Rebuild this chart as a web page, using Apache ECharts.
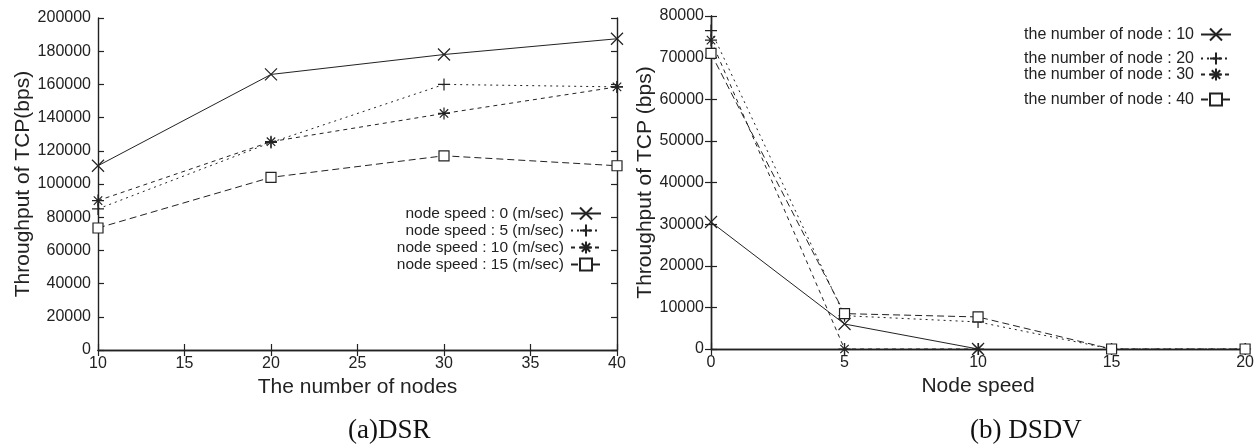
<!DOCTYPE html>
<html>
<head>
<meta charset="utf-8">
<script src="https://cdn.jsdelivr.net/npm/echarts@6/dist/echarts.min.js"></script>
<style>
html,body{margin:0;padding:0;background:#fff;}
#chart{width:1257px;height:444px;}
</style>
</head>
<body>
<div id="chart"></div>
<script>
// ---- Data: (a) DSR ----
const dsrNodes = [10, 20, 30, 40];
const dsrSpeed0 = [111000, 166000, 178000, 187500];
const dsrSpeed5 = [85000, 125000, 160000, 158500];
const dsrSpeed10 = [90000, 125500, 142500, 158500];
const dsrSpeed15 = [73500, 104000, 117000, 111000];
const dsrNames = ['node speed : 0 (m/sec)', 'node speed : 5 (m/sec)', 'node speed : 10 (m/sec)', 'node speed : 15 (m/sec)'];

// ---- Data: (b) DSDV ----
const dsdvSpeeds = [0, 5, 10, 15, 20];
const dsdvNode10 = [30500, 6000, 0];
const dsdvNode20 = [76500, 8000, 6500, 0, 0];
const dsdvNode30 = [74200, 0, 0];
const dsdvNode40 = [71000, 8500, 7700, 0, 0];
const dsdvNames = ['the number of node : 10', 'the number of node : 20', 'the number of node : 30', 'the number of node : 40'];

// ---- Labels ----
const captions = ['(a)DSR', '(b) DSDV'];
const xNames = ['The number of nodes', 'Node speed'];
const yNames = ['Throughput of TCP(bps)', 'Throughput of TCP (bps)'];

const pair = (xs, ys) => ys.map((v, i) => [xs[i], v]);

const FONT = '"Liberation Sans", Arial, sans-serif';
const INK = '#222';

const SYM_X = 'path://M0,0L10,10M10,0L0,10';
const SYM_PLUS = 'path://M5,0L5,10M0,5L10,5';
const SYM_STAR = 'path://M5,0L5,10M0,5L10,5M1.5,1.5L8.5,8.5M8.5,1.5L1.5,8.5';
const SYM_SQ = 'path://M0,0L10,0L10,10L0,10Z';

const styles = [
  {sym: SYM_X, size: 12, dash: 'solid'},
  {sym: SYM_PLUS, size: 12, dash: [2, 4]},
  {sym: SYM_STAR, size: 12, dash: [4, 4]},
  {sym: SYM_SQ, size: 10, dash: [7, 4]}
];

function mkSeries(name, data, k, grid) {
  const s = styles[k];
  return {
    name: name,
    type: 'line',
    xAxisIndex: grid * 2,
    yAxisIndex: grid * 2,
    data: data,
    symbol: s.sym,
    symbolSize: s.size,
    symbolKeepAspect: true,
    showAllSymbol: true,
    z: 3,
    lineStyle: {color: INK, width: 1, type: s.dash},
    itemStyle: {color: k === 3 ? '#fff' : 'rgba(0,0,0,0)', borderColor: INK, borderWidth: 1.2, opacity: 1},
    emphasis: {disabled: true},
    animation: false
  };
}

const axisLine = {show: true, lineStyle: {color: INK, width: 1.4}};
const tickIn = {show: true, inside: true, length: 6, lineStyle: {color: INK, width: 1.2}};
const lbl = {color: INK, fontFamily: FONT, fontSize: 16, formatter: v => String(v)};

function xAxes(grid, min, max, name, gap) {
  return [
    {type: 'value', gridIndex: grid, min: min, max: max, interval: 5, position: 'bottom',
     axisLine: axisLine, axisTick: tickIn, splitLine: {show: false},
     axisLabel: Object.assign({margin: 6}, lbl),
     name: name, nameLocation: 'middle', nameGap: gap,
     nameTextStyle: {color: INK, fontFamily: FONT, fontSize: 21}},
    {type: 'value', gridIndex: grid, min: min, max: max, interval: 5, position: 'top',
     axisLine: axisLine, axisTick: tickIn, splitLine: {show: false}, axisLabel: {show: false}}
  ];
}
function yAxes(grid, max, interval, name, gap) {
  return [
    {type: 'value', gridIndex: grid, min: 0, max: max, interval: interval, position: 'left',
     axisLine: axisLine, axisTick: tickIn, splitLine: {show: false},
     axisLabel: Object.assign({margin: 7}, lbl),
     name: name, nameLocation: 'middle', nameGap: gap, nameRotate: 90,
     nameTextStyle: {color: INK, fontFamily: FONT, fontSize: 21}},
    {type: 'value', gridIndex: grid, min: 0, max: max, interval: interval, position: 'right',
     axisLine: axisLine, axisTick: tickIn, splitLine: {show: false}, axisLabel: {show: false}}
  ];
}

function legendAt(names, right, top, gap, fs) {
  return {
    data: names, orient: 'vertical', right: right, top: top, align: 'right',
    itemGap: gap, itemWidth: 30, itemHeight: 15, padding: 0,
    selectedMode: false,
    textStyle: {color: INK, fontFamily: FONT, fontSize: fs, lineHeight: 17, padding: [0, 2, 0, 0]}
  };
}

const option = {
  backgroundColor: '#fff',
  animation: false,
  grid: [
    {left: 98, right: 1257 - 617, top: 18, bottom: 444 - 350},
    {left: 711, right: 10, top: 16, bottom: 444 - 349}
  ],
  xAxis: [].concat(xAxes(0, 10, 40, xNames[0], 24), xAxes(1, 0, 20, xNames[1], 24)),
  yAxis: [].concat(yAxes(0, 200000, 20000, yNames[0], 56), yAxes(1, 80000, 10000, yNames[1], 43)),
  legend: [
    legendAt(dsrNames, 1257 - 602, 205, 0, 15.5),
    legendAt([dsdvNames[0]], 1257 - 1232, 26, 0, 16),
    legendAt([dsdvNames[1]], 1257 - 1232, 50, 0, 16),
    legendAt([dsdvNames[2]], 1257 - 1232, 66, 0, 16),
    legendAt([dsdvNames[3]], 1257 - 1232, 91, 0, 16)
  ],
  graphic: [
    {type: 'text', left: 348, top: 417, style: {text: captions[0], fill: '#111', font: '27px "Liberation Serif", "Times New Roman", serif', textAlign: 'center'}},
    {type: 'text', left: 970, top: 417, style: {text: captions[1], fill: '#111', font: '27px "Liberation Serif", "Times New Roman", serif', textAlign: 'center'}}
  ],
  series: [
    mkSeries(dsrNames[0], pair(dsrNodes, dsrSpeed0), 0, 0),
    mkSeries(dsrNames[1], pair(dsrNodes, dsrSpeed5), 1, 0),
    mkSeries(dsrNames[2], pair(dsrNodes, dsrSpeed10), 2, 0),
    mkSeries(dsrNames[3], pair(dsrNodes, dsrSpeed15), 3, 0),
    mkSeries(dsdvNames[0], pair(dsdvSpeeds, dsdvNode10), 0, 1),
    mkSeries(dsdvNames[1], pair(dsdvSpeeds, dsdvNode20), 1, 1),
    mkSeries(dsdvNames[2], pair(dsdvSpeeds, dsdvNode30), 2, 1),
    mkSeries(dsdvNames[3], pair(dsdvSpeeds, dsdvNode40), 3, 1)
  ]
};

const chart = echarts.init(document.getElementById('chart'), null, {renderer: 'canvas'});
chart.setOption(option);
</script>
</body>
</html>
